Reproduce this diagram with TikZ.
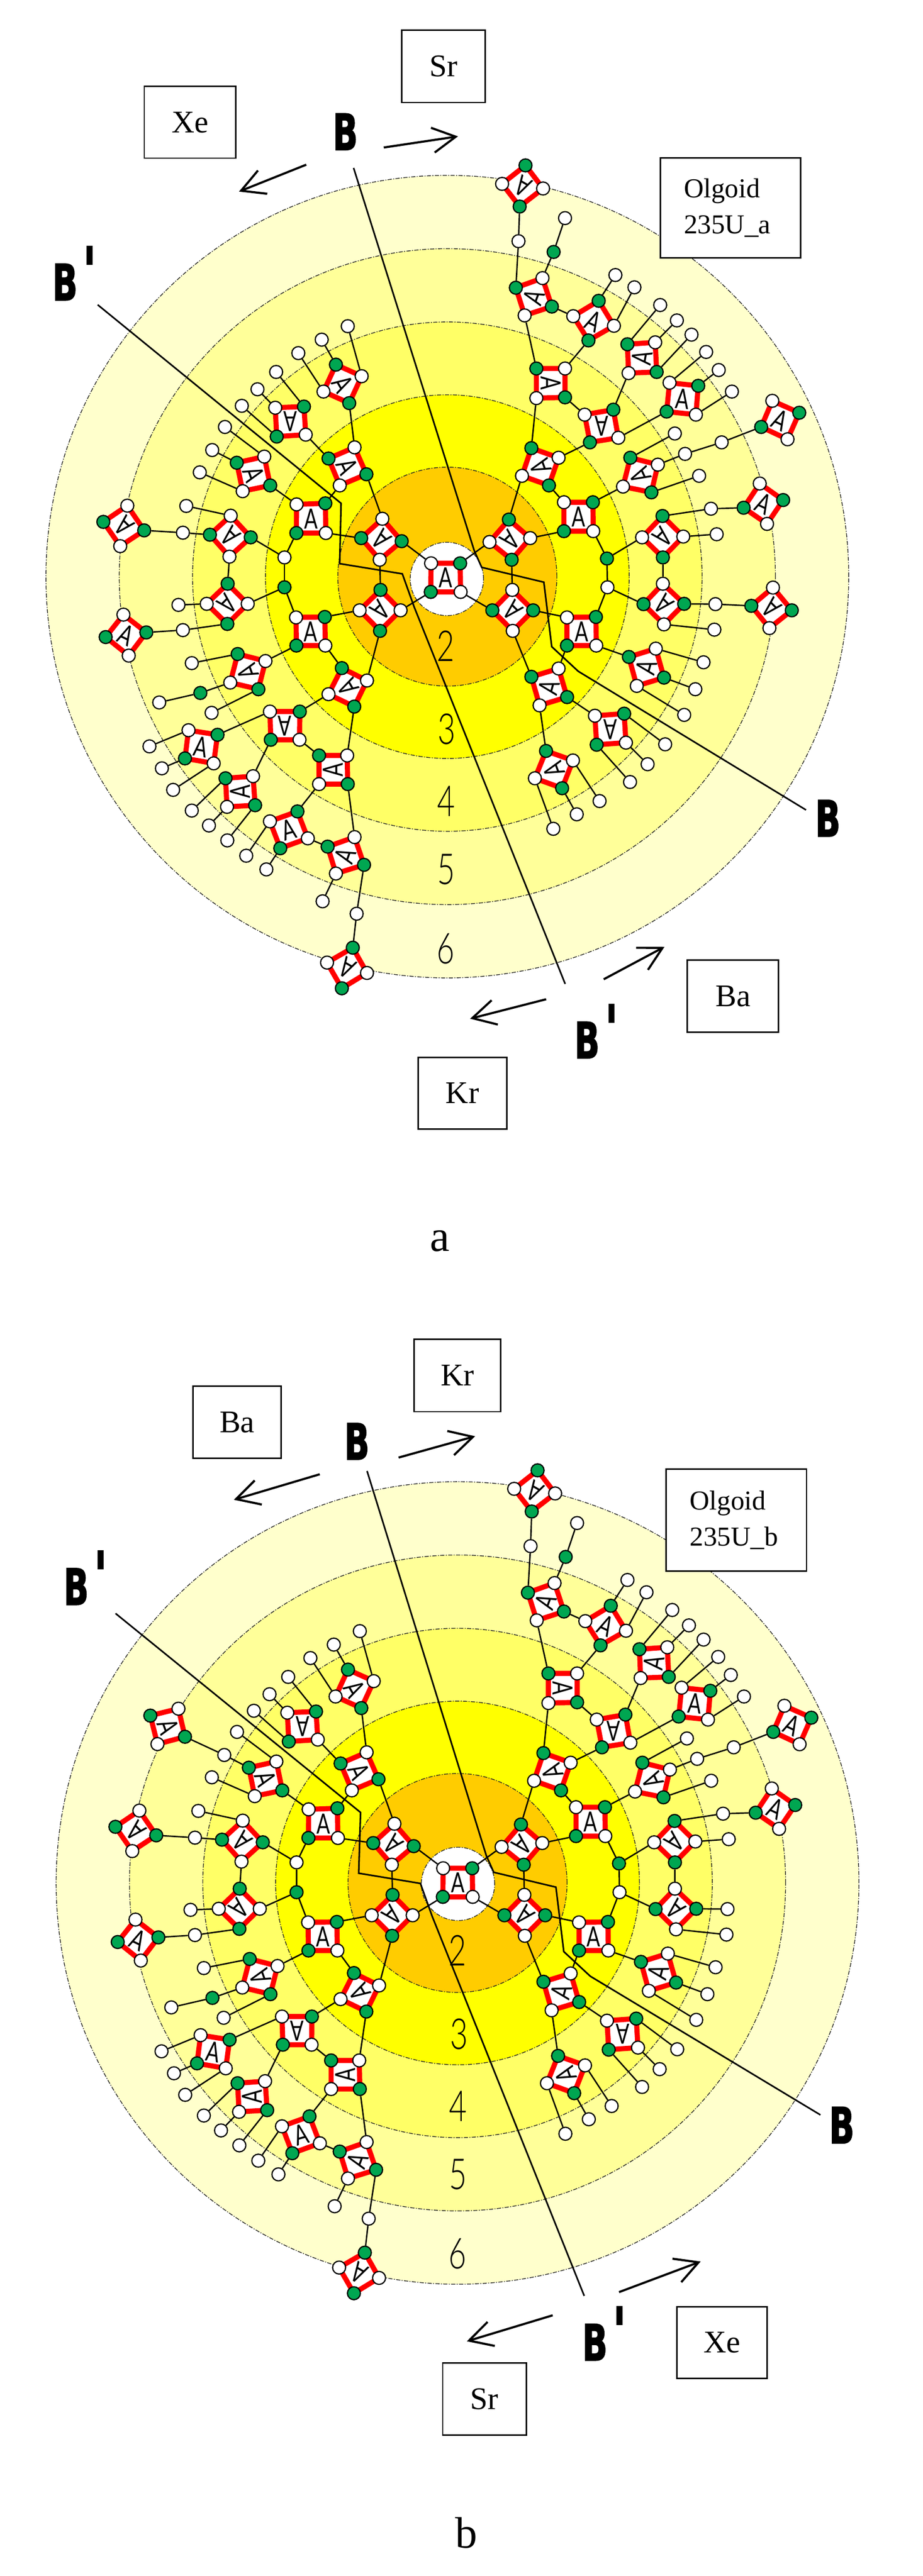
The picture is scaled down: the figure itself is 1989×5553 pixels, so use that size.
\documentclass[tikz,border=0pt]{standalone}
\usepackage{fontspec}
\usepackage{graphicx}
\setmainfont{Liberation Serif}
\newfontfamily\hv{Lato}
\newfontfamily\djb[BoldFeatures={FakeBold=2.5}]{DejaVu Sans}
\newfontfamily\thinf{Lato Light}
\usetikzlibrary{calc,arrows.meta}
\pgfdeclarelayer{bg}\pgfdeclarelayer{conn}\pgfsetlayers{bg,conn,main}
\definecolor{gnode}{HTML}{00A651}
\definecolor{c2}{HTML}{FFCC00}
\definecolor{c3}{HTML}{FFFF00}
\definecolor{c4}{HTML}{FFFF66}
\definecolor{c5}{HTML}{FFFF99}
\definecolor{c6}{HTML}{FFFFCC}
\tikzset{
 wn/.style={circle,draw=black,fill=white,line width=2.6pt,minimum size=28pt,inner sep=0pt},
 gn/.style={circle,draw=black,fill=gnode,line width=2.6pt,minimum size=28pt,inner sep=0pt},
 redsq/.style={draw=red,fill=white,line width=11pt,line join=round},
 aletter/.style={inner sep=0pt,font=\hv\fontsize{60}{62}\selectfont},
 cnline/.style={draw=black,line width=3pt},
 ringd/.style={draw=black!85,line width=1.6pt,dash pattern=on 9pt off 3pt on 2pt off 3pt},
 tbox/.style={draw=black,fill=white,line width=3.2pt,inner sep=0pt,font=\fontsize{68}{72}\selectfont,align=center},
 olgbox/.style={draw=black,fill=white,line width=3.2pt,inner ysep=0pt,inner xsep=50pt,text width=200pt,align=left,font=\fontsize{59}{78}\selectfont},
 blab/.style={inner sep=0pt,anchor=base west,xscale=.66,font=\djb\bfseries\fontsize{107}{110}\selectfont},
 bline/.style={draw=black,line width=3.4pt,line join=miter},
 barrow/.style={draw=black,line width=4.6pt,-{Straight Barb[length=50pt,width=54pt,line width=4.6pt]}},
 digit/.style={inner sep=0pt,xscale=.72,font=\thinf\fontsize{92}{94}\selectfont},
 capt/.style={inner sep=0pt,anchor=base,font=\fontsize{95}{100}\selectfont},
 zi/.style={x=.6378pt,y=-.8292pt},
 zii/.style={shift={(1000,0)},x=.6309pt,y=-.8292pt},
 ziii/.style={shift={(0,1300)},x=.6378pt,y=-.8929pt},
 ziv/.style={shift={(1000,1300)},x=.6309pt,y=-.8929pt},
 zix/.style={shift={(700,950)},x=.3333pt,y=-.3333pt},
 zx/.style={shift={(150,1050)},x=.3827pt,y=-.3333pt},
 zxi/.style={shift={(1200,1050)},x=.3827pt,y=-.3333pt},
 zv/.style={shift={(0,2850)},x=.6378pt,y=-.8292pt},
}
\newcount\leafno
\def\pf{}
\newcommand\bprime{B\hspace{18pt}\raisebox{14pt}{\scalebox{1.3}{'}}}
\newcommand\olg[6]{%
 \draw[redsq] (#2)--(#3)--(#4)--(#5)--cycle;
 \node[aletter,rotate=#6,xscale=.72] (\pf#1-a) at ($(#2)!.5!(#4)$) {A};
 \node[wn] (\pf#1-w1) at (#2) {};
 \node[gn] (\pf#1-g1) at (#3) {};
 \node[wn] (\pf#1-w2) at (#4) {};
 \node[gn] (\pf#1-g2) at (#5) {};
}
\newcommand\wnd[2]{\node[wn] (\pf#1) at (#2) {};}
\newcommand\gnd[2]{\node[gn] (\pf#1) at (#2) {};}
\newcommand\cn[2]{\begin{pgfonlayer}{conn}\draw[cnline] (\pf#1) -- (\pf#2);\end{pgfonlayer}}
\newcommand\leaf[2]{\global\advance\leafno by 1
 \node[wn] (\pf leaf\the\leafno) at (#2) {};
 \begin{pgfonlayer}{conn}\draw[cnline] (\pf#1) -- (\pf leaf\the\leafno);\end{pgfonlayer}}
\newcommand\commontree{%
\begin{scope}[zix]
\olg{c}{687,793}{875,793}{878,978}{685,978}{0}
\olg{u1}{372,505}{497,650}{355,770}{235,630}{135}
\olg{ur}{1065,655}{1190,510}{1328,630}{1208,770}{-135}
\olg{ll}{225,1097}{360,965}{490,1097}{357,1230}{-135}
\olg{lr}{1212,965}{1347,1097}{1215,1230}{1083,1097}{135}
\end{scope}
\begin{scope}[zx]
\olg{u8}{325,120}{420,280}{285,382}{190,225}{135}
\olg{u7}{907,185}{1020,325}{900,450}{790,308}{135}
\olg{u9}{772,755}{890,625}{1003,755}{888,885}{-135}
\olg{u10}{303,825}{432,940}{333,1090}{203,970}{-25}
\olg{u2}{1278,112}{1440,105}{1443,297}{1277,297}{0}
\olg{u11}{1275,843}{1437,840}{1440,1025}{1277,1025}{0}
\wnd{j1}{1210,455}\gnd{j2}{1210,648}\wnd{n1}{638,295}\wnd{n2}{638,925}
\leaf{u7-w1}{657,122}
\leaf{u9-w1}{613,762}
\end{scope}
\begin{scope}[zi]
\olg{u3}{1198,1163}{1238,1233}{1148,1262}{1110,1192}{-65}
\olg{u4}{930,1060}{1027,1057}{1033,1130}{935,1135}{180}
\olg{u5}{1222,978}{1180,1048}{1093,1018}{1135,948}{-60}
\olg{u6}{893,1187}{913,1262}{820,1277}{800,1203}{-70}
\wnd{n3}{717,1170}
\leaf{u6-w2}{675,1228}
\leaf{u6-w1}{760,1110}
\leaf{u4-g1}{933,967}
\leaf{u4-w1}{870,1012}
\leaf{u4-g2}{817,1055}
\leaf{u5-w1}{1175,848}
\leaf{u5-g2}{1087,883}
\leaf{u5-w2}{1008,918}
\end{scope}
\begin{scope}[ziii]
\olg{u13}{1240,187}{1197,250}{1110,220}{1155,157}{120}
\olg{u15}{912,262}{1013,262}{1012,330}{915,330}{180}
\olg{u16}{1173,368}{1175,437}{1078,437}{1078,368}{90}
\olg{u14}{897,140}{873,208}{778,192}{803,123}{110}
\olg{u17}{637,307}{735,318}{722,387}{625,375}{-10}
\olg{u18}{855,418}{862,488}{767,492}{762,423}{90}
\olg{u19}{912,527}{1005,503}{1040,568}{947,592}{15}
\olg{u20}{1198,565}{1230,632}{1135,653}{1107,588}{70}
\olg{u21}{1240,893}{1155,930}{1105,868}{1192,832}{150}
\wnd{n4}{1205,750}\gnd{n5}{677,217}
\leaf{u14-g2}{648,145}
\leaf{n5}{538,240}
\leaf{u14-g1}{715,265}
\leaf{u17-w1}{505,346}
\leaf{u17-g2}{547,399}
\leaf{u17-w2}{585,451}
\leaf{u18-g2}{648,501}
\leaf{u18-w2}{706,537}
\leaf{u18-g1}{768,573}
\leaf{u19-w1}{832,610}
\leaf{u19-g2}{900,643}
\leaf{u20-w2}{1090,720}
\end{scope}
\begin{scope}[zii]
\olg{u22}{323,1190}{290,1262}{198,1237}{230,1165}{110}
\olg{u25}{345,958}{345,1033}{247,1035}{247,958}{-90}
\olg{u24}{412,1078}{510,1065}{527,1138}{430,1150}{180}
\olg{u26}{268,723}{300,797}{207,820}{177,748}{70}
\olg{u30}{270,490}{190,537}{130,478}{210,430}{150}
\olg{u27}{373,822}{460,782}{512,847}{425,885}{-25}
\olg{u28}{562,970}{558,895}{653,890}{658,967}{80}
\olg{u29}{702,995}{800,1003}{792,1078}{692,1070}{-5}
\olg{u31}{662,1208}{640,1280}{543,1265}{568,1190}{115}
\olg{u32}{1053,1042}{1145,1073}{1105,1142}{1015,1110}{-25}
\olg{u36}{1010,1257}{1090,1300}{1035,1362}{955,1320}{-25}
\wnd{n6}{186,627}\gnd{n7}{306,655}\wnd{n8}{755,1180}\wnd{n9}{880,1150}
\leaf{n7}{345,567}
\leaf{u27-g1}{517,715}
\leaf{u27-w2}{582,747}
\leaf{u28-g1}{670,793}
\leaf{u28-w2}{727,833}
\leaf{u28-g2}{777,870}
\leaf{u29-w1}{827,915}
\leaf{u29-g1}{870,962}
\leaf{u29-w2}{915,1018}
\leaf{u31-g2}{720,1127}
\leaf{u31-g1}{803,1237}
\end{scope}
\begin{scope}[zxi]
\olg{u23}{40,98}{203,98}{205,285}{40,285}{0}
\olg{u33}{480,325}{595,187}{712,320}{597,455}{-135}
\olg{u35}{597,625}{717,755}{603,888}{488,757}{135}
\olg{u38}{57,843}{220,840}{222,1025}{57,1025}{0}
\gnd{j3}{282,462}\wnd{j4}{285,648}\wnd{n10}{868,140}\wnd{n11}{893,757}
\leaf{u33-w2}{900,305}
\leaf{u35-w2}{887,922}
\end{scope}
\begin{scope}[ziv]
\olg{u39}{655,110}{683,180}{590,200}{563,130}{75}
\olg{u40}{323,158}{352,227}{258,247}{230,178}{75}
\olg{u41}{447,272}{547,267}{553,337}{453,342}{180}
\olg{u42}{372,380}{335,447}{242,423}{280,357}{110}
\leaf{u39-w1}{818,143}
\leaf{u39-g1}{790,208}
\leaf{u39-w2}{752,270}
\leaf{u41-g1}{687,341}
\leaf{u41-w2}{627,389}
\leaf{u41-g2}{567,432}
\leaf{u42-w1}{463,478}
\leaf{u42-g1}{385,510}
\leaf{u42-w2}{305,545}
\end{scope}
\cn{u8-g1}{n1}\cn{n1}{u7-g2}\cn{u10-g1}{n2}\cn{n2}{u9-g2}\cn{u7-g1}{j1}\cn{j1}{u2-g2}
\cn{j1}{j2}\cn{j2}{u9-w2}\cn{j2}{u11-w1}\cn{u7-w2}{u9-g1}\cn{u2-w2}{u1-g2}\cn{u11-g1}{ll-w1}
\cn{c-w1}{u1-g1}\cn{c-g1}{ur-w1}\cn{c-g2}{ll-w2}\cn{c-w2}{lr-g2}\cn{ur-g2}{lr-w1}\cn{u1-w2}{ll-g1}
\cn{u3-g1}{u1-w1}\cn{u3-w2}{u2-g1}\cn{u3-g2}{u4-w2}\cn{u3-w1}{u5-g1}\cn{u2-w1}{u6-g1}\cn{u6-g2}{n3}
\cn{ll-g2}{u13-w1}\cn{u11-w2}{u13-g2}\cn{u11-g2}{u14-w1}\cn{u13-w2}{u15-g1}\cn{u13-g1}{u16-w1}
\cn{u15-w1}{u17-g1}\cn{u15-w2}{u16-g2}\cn{u15-g2}{u18-w1}\cn{u16-w2}{u19-g1}\cn{u16-g1}{u20-w1}
\cn{u19-w2}{u20-g2}\cn{u20-g1}{n4}\cn{n4}{u21-g2}\cn{u14-w2}{n5}
\cn{ur-g1}{u22-w2}\cn{u22-w1}{u24-g2}\cn{u22-g1}{u23-w1}\cn{u22-g2}{u25-w2}\cn{u25-g2}{u26-w2}
\cn{u25-w1}{u27-g2}\cn{u25-g1}{u24-w1}\cn{u24-g1}{u28-w1}\cn{u24-w2}{u29-g2}\cn{u26-g2}{n6}
\cn{n6}{u30-g1}\cn{u26-w1}{n7}\cn{u26-g1}{u27-w1}\cn{u31-w1}{n8}\cn{n8}{n9}\cn{n9}{u32-g2}
\cn{u31-w2}{u23-g1}
\cn{ur-w2}{u23-g2}\cn{u23-w2}{j3}\cn{j3}{j4}\cn{j3}{u33-w1}\cn{j4}{u35-g2}\cn{j4}{u38-g1}
\cn{u33-g1}{n10}\cn{n10}{u36-g2}\cn{u33-g2}{u35-w1}\cn{u35-g1}{n11}\cn{lr-g1}{u38-w1}
\cn{u38-w2}{u39-g2}\cn{u38-g2}{u40-w1}\cn{lr-w2}{u40-g2}\cn{u40-g1}{u41-w1}\cn{u40-w2}{u42-g2}
\node[digit] (\pf d2) at (960,1392) {2};
\node[digit] (\pf d3) at (963,1572) {3};
\node[digit] (\pf d4) at (961,1727) {4};
\node[digit] (\pf d5) at (961,1874) {5};
\node[digit] (\pf d6) at (960,2045) {6};
}
\newcommand\discs[2]{%
 \begin{pgfonlayer}{bg}
 \foreach \r/\c in {865/c6,707/c5,549/c4,392/c3,236/c2}{\draw[ringd,fill=\c] (#1,#2) circle[radius=\r pt];}
 \end{pgfonlayer}}
\begin{document}
\begin{tikzpicture}[x=1pt,y=-1pt]
\useasboundingbox (0,0) rectangle (1989,5553);
% ---------- a ----------
\discs{964}{1243}
\begin{pgfonlayer}{bg}\draw[ringd,fill=white] (963,1248) circle[radius=79pt];\end{pgfonlayer}
\def\pf{a}
\commontree
\begin{scope}[zxi]
\olg{u37}{1217,650}{1323,797}{1197,912}{1095,768}{135}
\end{scope}
\cn{n11}{u37-g2}
\node[tbox,minimum width=180pt,minimum height=156pt] (asr) at (956,143) {Sr};
\node[tbox,minimum width=197pt,minimum height=155pt] (axe) at (409.5,263.5) {Xe};
\node[olgbox,minimum width=302pt,minimum height=216pt] (aolg) at (1574,448) {Olgoid\\235U\_a};
\node[tbox,minimum width=197pt,minimum height=155pt] (aba) at (1579.5,2147.5) {Ba};
\node[tbox,minimum width=191pt,minimum height=155pt] (akr) at (996.5,2356.5) {Kr};
\node[capt] (acap) at (948,2697) {a};
\node[blab] (ab1) at (717,323) {B};
\node[blab] (ab2) at (1757,1803) {B};
\node[blab] (abp1) at (113,647) {\bprime};
\node[blab] (abp2) at (1238,2281) {\bprime};
\coordinate (aA1) at (827,318);\coordinate (aA1e) at (987,294);
\coordinate (aA2) at (660,355);\coordinate (aA2e) at (515,413);
\coordinate (aA3) at (1301,2111);\coordinate (aA3e) at (1432,2041);
\coordinate (aA4) at (1177,2154);\coordinate (aA4e) at (1013,2196);
\draw[barrow] (aA1)--(aA1e);\draw[barrow] (aA2)--(aA2e);\draw[barrow] (aA3)--(aA3e);\draw[barrow] (aA4)--(aA4e);
\coordinate (aL1) at (762,362);\coordinate (aL2) at (1022,1187);\coordinate (aL3) at (1038,1223);\coordinate (aL4) at (1172,1255);
\coordinate (aL5) at (1189,1394);\coordinate (aL6) at (1246,1447);\coordinate (aL7) at (1737,1746);
\coordinate (aP1) at (210.5,657);\coordinate (aP2) at (735,1085);\coordinate (aP3) at (732,1215);\coordinate (aP4) at (867,1237);
\coordinate (aP5) at (892,1307);\coordinate (aP6) at (1218,2121);
\begin{pgfonlayer}{conn}
\draw[bline] (aL1)--(aL2)--(aL3)--(aL4)--(aL5)--(aL6)--(aL7);
\draw[bline] (aP1)--(aP2)--(aP3)--(aP4)--(aP5)--(aP6);
\end{pgfonlayer}
% ---------- b ----------
\discs{986}{4059}
\begin{pgfonlayer}{bg}\draw[ringd,fill=white] (987,4061) circle[radius=79pt];\end{pgfonlayer}
\def\pf{b}
\begin{scope}[shift={(26,2813)}]
\commontree
\end{scope}
\begin{scope}[zv]
\olg{uL}{603,1005}{625,1078}{532,1097}{508,1023}{-70}
\end{scope}
\cn{n3}{uL-g1}
\node[tbox,minimum width=190pt,minimum height=155pt] (bba) at (511,3066) {Ba};
\node[tbox,minimum width=187pt,minimum height=156pt] (bkr) at (985.5,2965) {Kr};
\node[olgbox,minimum width=303pt,minimum height=220pt] (bolg) at (1586.5,3277) {Olgoid\\235U\_b};
\node[tbox,minimum width=194pt,minimum height=155pt] (bxe) at (1556,5050) {Xe};
\node[tbox,minimum width=180pt,minimum height=155pt] (bsr) at (1044,5171.5) {Sr};
\node[capt] (bcap) at (1005,5492) {b};
\node[blab] (bb1) at (742,3146) {B};
\node[blab] (bb2) at (1787,4620) {B};
\node[blab] (bbp1) at (137,3459) {\bprime};
\node[blab] (bbp2) at (1255,5088) {\bprime};
\coordinate (bA1) at (859,3142);\coordinate (bA1e) at (1024,3096);
\coordinate (bA2) at (689,3178);\coordinate (bA2e) at (504,3233);
\coordinate (bA3) at (1334,4941);\coordinate (bA3e) at (1510,4875);
\coordinate (bA4) at (1191,4991);\coordinate (bA4e) at (1006,5047);
\draw[barrow] (bA1)--(bA1e);\draw[barrow] (bA2)--(bA2e);\draw[barrow] (bA3)--(bA3e);\draw[barrow] (bA4)--(bA4e);
\coordinate (bL1) at (791,3171);\coordinate (bL2) at (1048,4000);\coordinate (bL3) at (1064,4036);\coordinate (bL4) at (1198,4068);
\coordinate (bL5) at (1215,4207);\coordinate (bL6) at (1272,4260);\coordinate (bL7) at (1768,4559);
\coordinate (bP1) at (249,3478);\coordinate (bP2) at (777,3907);\coordinate (bP3) at (773,4038);\coordinate (bP4) at (906,4060);
\coordinate (bP5) at (931,4130);\coordinate (bP6) at (1259,4949);
\begin{pgfonlayer}{conn}
\draw[bline] (bL1)--(bL2)--(bL3)--(bL4)--(bL5)--(bL6)--(bL7);
\draw[bline] (bP1)--(bP2)--(bP3)--(bP4)--(bP5)--(bP6);
\end{pgfonlayer}
\end{tikzpicture}
\end{document}
